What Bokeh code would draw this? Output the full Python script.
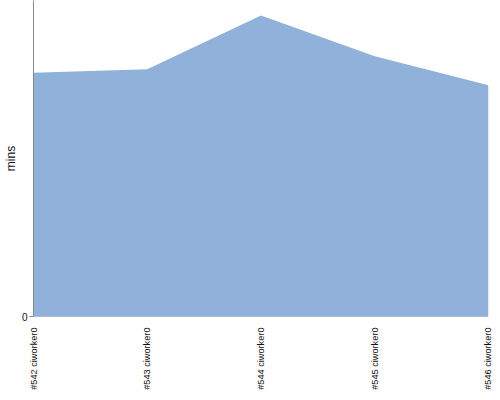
import math
from bokeh.plotting import figure
from bokeh.models import FixedTicker, Range1d
from bokeh.embed import file_html
from bokeh.resources import INLINE

builds = ["#542 ciworker0", "#543 ciworker0", "#544 ciworker0", "#545 ciworker0", "#546 ciworker0"]
mins = [2.445, 2.48, 3.02, 2.61, 2.32]
y_max = 3.17

xs = list(range(len(builds)))

p = figure(width=492, height=392, output_backend="svg", toolbar_location=None,
           x_range=Range1d(0, len(builds) - 1), y_range=Range1d(0, y_max),
           min_border_left=0, min_border_right=4, min_border_top=0, min_border_bottom=0)
p.varea(x=xs, y1=[0] * len(xs), y2=mins, fill_color="#8fb1da")
p.line(x=[0, len(xs) - 1], y=[0, 0], line_color="#7d93ad", line_width=1)

p.outline_line_color = None
p.grid.visible = False
p.background_fill_color = "white"

p.xaxis.ticker = FixedTicker(ticks=xs)
p.xaxis.major_label_overrides = {i: b for i, b in enumerate(builds)}
p.xaxis.major_label_orientation = math.pi / 2
p.xaxis.axis_line_color = None
p.xaxis.major_tick_line_color = None
p.xaxis.minor_tick_line_color = None
p.xaxis.major_label_standoff = 5
p.xaxis.major_label_text_font = "Liberation Sans"
p.xaxis.major_label_text_font_size = "9.2px"
p.xaxis.major_label_text_color = "#111111"

p.yaxis.ticker = FixedTicker(ticks=[0])
p.yaxis.axis_line_color = "#888888"
p.yaxis.major_tick_line_color = "#888888"
p.yaxis.major_tick_out = 4
p.yaxis.major_tick_in = 0
p.yaxis.minor_tick_line_color = None
p.yaxis.major_label_standoff = 2
p.yaxis.major_label_text_font = "Liberation Sans"
p.yaxis.major_label_text_font_size = "10px"
p.yaxis.major_label_text_color = "#111111"
p.yaxis.axis_label = "mins"
p.yaxis.axis_label_standoff = 1
p.yaxis.axis_label_text_font = "Liberation Sans"
p.yaxis.axis_label_text_font_size = "12px"
p.yaxis.axis_label_text_font_style = "normal"
p.yaxis.axis_label_text_color = "#111111"

open("out.html", "w").write(file_html(p, INLINE))
